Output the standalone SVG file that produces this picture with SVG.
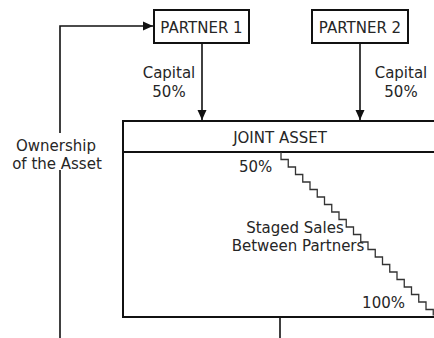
<svg xmlns="http://www.w3.org/2000/svg" width="434" height="338" viewBox="0 0 434 338">
<style>
text{font-family:"DejaVu Sans",Verdana,sans-serif;font-size:15px;fill:#262626}
.box{fill:#fff;stroke:#111;stroke-width:2}
.ln{fill:none;stroke:#111;stroke-width:1.6}
.stair{fill:none;stroke:#333;stroke-width:1.3}
</style>
<defs>
<marker id="ah" viewBox="0 0 10 10" refX="10" refY="5" markerWidth="10" markerHeight="10" markerUnits="userSpaceOnUse" orient="auto">
<path d="M0,0.5 L10,5 L0,9.5 Z" fill="#111"/>
</marker>
</defs>
<rect width="434" height="338" fill="#fff"/>
<g id="connectors">
<path class="ln" d="M60,133 V26 H153" marker-end="url(#ah)"/>
<path class="ln" d="M60,170 V338"/>
<path class="ln" d="M202,44 V120" marker-end="url(#ah)"/>
<path class="ln" d="M360,44 V120" marker-end="url(#ah)"/>
<path class="ln" d="M280,318 V338"/>
</g>
<g id="partner1">
<rect class="box" x="154" y="10" width="95" height="33"/>
<text x="201.5" y="33" text-anchor="middle">PARTNER 1</text>
</g>
<g id="partner2">
<rect class="box" x="312" y="10" width="96" height="33"/>
<text x="360" y="33" text-anchor="middle">PARTNER 2</text>
</g>
<g id="joint-asset">
<rect class="box" x="123" y="121" width="314" height="196"/>
<line x1="123" y1="152" x2="437" y2="152" stroke="#111" stroke-width="2"/>
<text x="280" y="143" text-anchor="middle">JOINT ASSET</text>
<path class="stair" d="M281,152 v7.5 h7.25 v7.5 h7.25 v7.5 h7.25 v7.5 h7.25 v7.5 h7.25 v7.5 h7.25 v7.5 h7.25 v7.5 h7.25 v7.5 h7.25 v7.5 h7.25 v7.5 h7.25 v7.5 h7.25 v7.5 h7.25 v7.5 h7.25 v7.5 h7.25 v7.5 h7.25 v7.5 h7.25 v7.5 h7.25 v7.5 h7.25 v7.5 h7.25 v7.5 h7.25 v6"/>
<text x="239" y="172">50%</text>
<text x="405" y="308" text-anchor="end">100%</text>
<text x="295" y="233" text-anchor="middle">Staged Sales</text>
<text x="298" y="251" text-anchor="middle">Between Partners</text>
</g>
<g id="labels">
<text x="169" y="78" text-anchor="middle">Capital</text>
<text x="169" y="97" text-anchor="middle">50%</text>
<text x="401" y="78" text-anchor="middle">Capital</text>
<text x="401" y="97" text-anchor="middle">50%</text>
<text x="56" y="151" text-anchor="middle">Ownership</text>
<text x="57" y="169" text-anchor="middle">of the Asset</text>
</g>
</svg>
